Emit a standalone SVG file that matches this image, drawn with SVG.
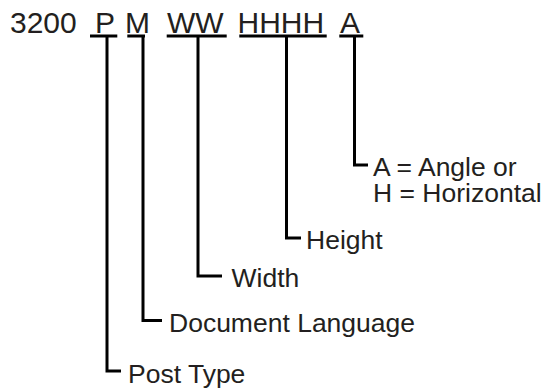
<svg xmlns="http://www.w3.org/2000/svg" width="549" height="392" viewBox="0 0 549 392">
<style>
.t{font-family:"Liberation Sans",Arial,sans-serif;fill:#231f20}
.h{font-size:30px}
.l{font-size:26.5px}
.c{fill:none;stroke:#000;stroke-width:3;stroke-linejoin:miter;stroke-linecap:butt}
</style>
<rect width="549" height="392" fill="#fff"/>
<g id="code">
<text class="t h" x="10" y="33">3200</text>
<text class="t h" x="95" y="33">P</text>
<text class="t h" x="125" y="33">M</text>
<text class="t h" x="167" y="33">WW</text>
<text class="t h" x="237.5" y="33">HHHH</text>
<text class="t h" x="340" y="33">A</text>
</g>
<g id="connectors">
<path class="c" d="M90 36H117.3M127.3 36H145M166.7 36H226.7M239.3 36H326.7M339.3 36H363.3"/>
<path class="c" d="M107 36V371H121"/>
<path class="c" d="M143 36V320.5H162"/>
<path class="c" d="M198 36V276H222"/>
<path class="c" d="M286.5 36V238H301"/>
<path class="c" d="M354.5 36V165H368"/>
</g>
<g id="angle"><text class="t l" x="373" y="176">A = Angle or</text><text class="t l" x="373" y="202">H = Horizontal</text></g>
<g id="height"><text class="t l" x="306" y="249">Height</text></g>
<g id="width"><text class="t l" x="231.5" y="287">Width</text></g>
<g id="language"><text class="t l" x="169" y="331.5">Document Language</text></g>
<g id="posttype"><text class="t l" x="128" y="383">Post Type</text></g>
</svg>
